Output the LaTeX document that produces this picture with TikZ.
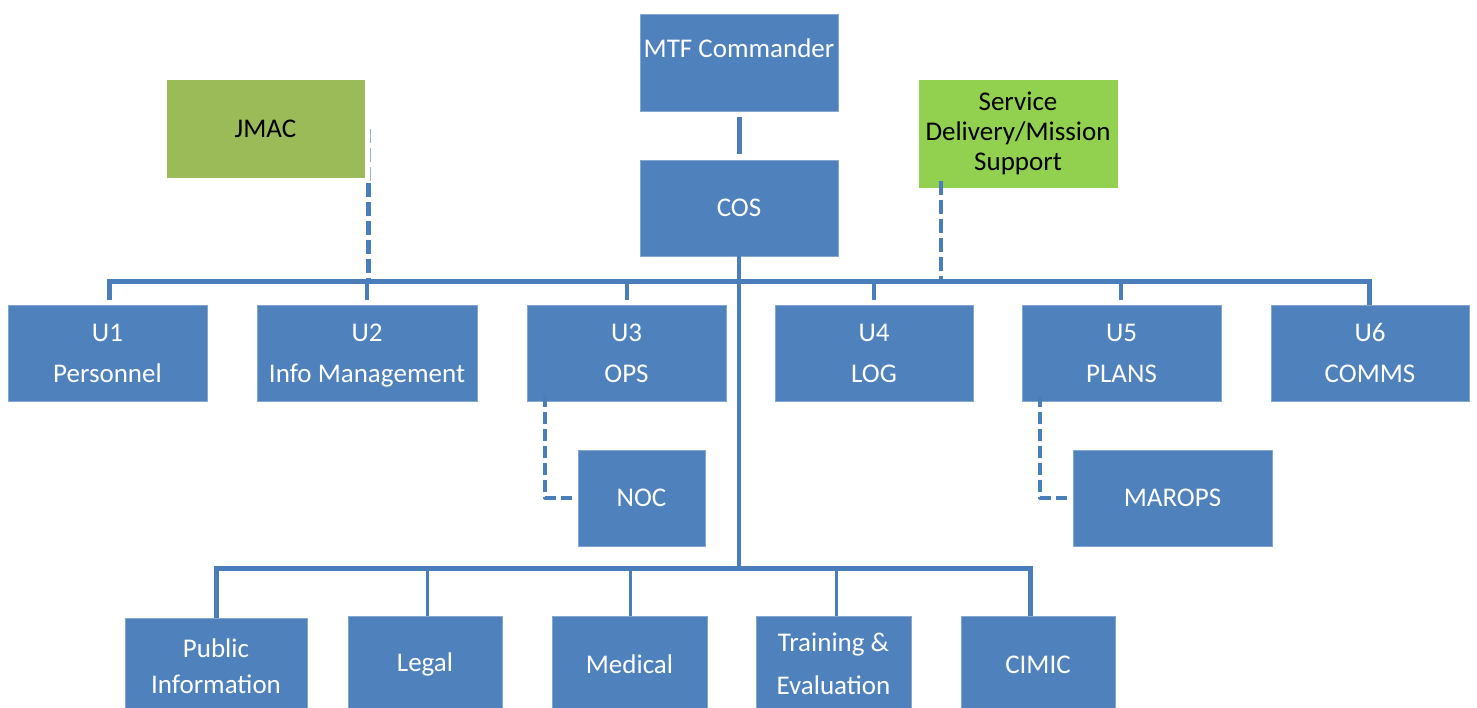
\documentclass[tikz,border=0pt]{standalone}
\usepackage{fontspec}
\setmainfont{Carlito}
\begin{document}
\begin{tikzpicture}[x=1pt,y=-1pt,
  box/.style={rectangle, fill=boxblue, draw=boxblue!70!white, line width=0.6pt, inner sep=0pt, outer sep=0pt,
     text=white, align=center, font=\fontsize{27}{41}\selectfont},
  gbox/.style={box, text=black},
  conn/.style={draw=lineblue, line width=4pt},
  thin/.style={draw=lineblue, line width=3pt},
  dsh/.style={draw=lineblue, line width=4.5pt, dash pattern=on 14pt off 5pt}]
\definecolor{boxblue}{HTML}{4F81BD}
\definecolor{lineblue}{HTML}{4A7EBB}
\definecolor{jgreen}{HTML}{9BBB59}
\definecolor{sgreen}{HTML}{92D050}
\useasboundingbox (0,0) rectangle (1477,707);

% top
\node[box, minimum width=198pt, minimum height=97pt] (mtf) at (739,62.5) {\raisebox{5pt}[0pt][0pt]{MTF Commander}};
\node[box, minimum width=198pt, minimum height=96pt] (cos) at (739,208) {COS};
\node[gbox, fill=jgreen, draw=jgreen, minimum width=197pt, minimum height=97pt] (jmac) at (265.5,128.5) {JMAC};
\node[gbox, fill=sgreen, draw=sgreen, minimum width=198pt, minimum height=107pt, font=\fontsize{27}{30}\selectfont] (sds) at (1018,133.5) {Service\\Delivery/Mission\\Suppor\smash{t}};

% U row
\node[box, minimum width=199pt, minimum height=96pt] (u1) at (107.5,353) {U1\\Personnel};
\node[box, minimum width=220pt, minimum height=96pt] (u2) at (367,353) {U2\\Info Mana\smash{g}ement};
\node[box, minimum width=199pt, minimum height=96pt] (u3) at (626.5,353) {U3\\OPS};
\node[box, minimum width=198pt, minimum height=96pt] (u4) at (874,353) {U4\\LOG};
\node[box, minimum width=199pt, minimum height=96pt] (u5) at (1121.5,353) {U5\\PLANS};
\node[box, minimum width=198pt, minimum height=96pt] (u6) at (1370,353) {U6\\COMMS};

% sub boxes
\node[box, minimum width=127pt, minimum height=96pt] (noc) at (641.5,498) {NOC};
\node[box, minimum width=199pt, minimum height=96pt] (marops) at (1172.5,498) {MAROPS};

% bottom row
\node[box, minimum width=182pt, minimum height=97pt, font=\fontsize{27}{36}\selectfont] (pub) at (216,666.5) {Public\\Information};
\node[box, minimum width=154pt, minimum height=97pt] (legal) at (425,664.5) {Legal};
\node[box, minimum width=155pt, minimum height=97pt] (medical) at (629.5,664.5) {Medical};
\node[box, minimum width=155pt, minimum height=97pt, font=\fontsize{27}{43}\selectfont] (train) at (833.5,664.5) {\raisebox{2pt}{Training \&}\\\raisebox{2pt}{Evaluation}};
\node[box, minimum width=154pt, minimum height=97pt] (cimic) at (1038,664.5) {CIMIC};

% coordinates for buses
\coordinate (busT) at (0,281);
\coordinate (busB) at (0,568);

% MTF - COS
\draw[conn, line width=5pt, shorten <=6pt, shorten >=6pt] (mtf.south) -- (cos.north);

% top bus
\draw[conn, line width=5pt, shorten <=5pt] ([xshift=1.5pt]u1.north) |- ([xshift=-1pt]u6.north |- busT) -- ([xshift=-1pt]u6.north);
\foreach \n/\dx in {u2/0,u3/0.5,u4/0,u5/-0.5}{
  \draw[conn, shorten <=5pt] ([xshift=\dx pt]\n.north) -- ([xshift=\dx pt]\n.north |- busT);
}
% COS trunk
\draw[conn] (cos.south) -- (cos.south |- busB);

% bottom bus
\draw[conn, line width=5pt] (pub.north) |- ([xshift=-8pt]cimic.north |- busB) -- ([xshift=-8pt]cimic.north);
\draw[thin] ([xshift=2pt]legal.north) -- ([xshift=2pt]legal.north |- busB);
\draw[thin] ([xshift=0.5pt]medical.north) -- ([xshift=0.5pt]medical.north |- busB);
\draw[thin] ([xshift=2.5pt]train.north) -- ([xshift=2.5pt]train.north |- busB);

% dashed links
\coordinate (jtop) at (370.5,129);
\coordinate (jmid) at (370.5,181);
\coordinate (jlow) at (368.5,183);
\draw[draw=lineblue!60!white, line width=1.5pt, dash pattern=on 14pt off 5pt] (jtop) -- (jmid);
\draw[dsh] (jlow) -- (jlow |- busT);
\draw[dsh] ([xshift=-77pt, yshift=6pt]sds.south) -- ([xshift=-77pt]sds.south |- busT);
\draw[dsh, line width=4pt, dash pattern=on 12pt off 5pt, line join=round] ([xshift=-81.5pt, yshift=6pt]u3.south) |- ([xshift=-6pt]noc.west);
\draw[dsh, line width=4pt, dash pattern=on 12pt off 5pt, line join=round] ([xshift=-81.5pt, yshift=6pt]u5.south) |- ([xshift=-6pt]marops.west);
\end{tikzpicture}
\end{document}
